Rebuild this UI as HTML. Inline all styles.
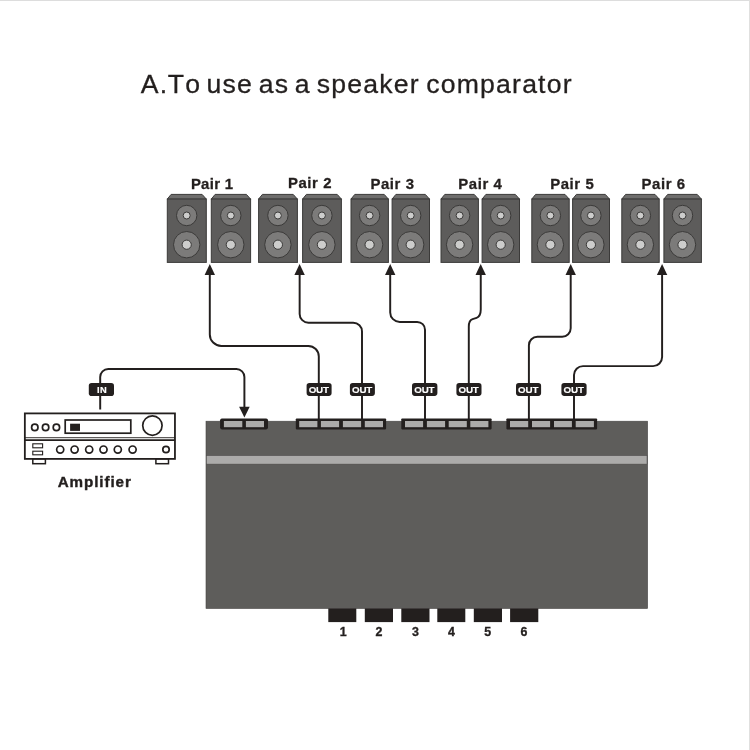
<!DOCTYPE html>
<html lang="en"><head><meta charset="utf-8"><title>A.To use as a speaker comparator</title>
<style>html,body{margin:0;padding:0;background:#fff}body{width:750px;height:750px;overflow:hidden}svg{display:block;will-change:transform;opacity:.9999}text{font-family:"Liberation Sans", sans-serif;font-kerning:none}</style>
</head><body>
<svg width="750" height="750" viewBox="0 0 750 750">
<rect width="750" height="750" fill="#fff"/>
<rect x="0" y="0" width="750" height="1" fill="#dddddd"/>
<rect x="749" y="0" width="1" height="750" fill="#e0e0df"/>
<text y="92.6" font-size="26.6" letter-spacing="1.20" fill="#231f1e" stroke="#231f1e" stroke-width="0.3"><tspan x="140.69">A.</tspan><tspan x="167.75">To</tspan> <tspan x="206.52">use</tspan> <tspan x="258.84">as</tspan> <tspan x="294.70">a</tspan> <tspan x="316.81">speaker</tspan> <tspan x="426.26">comparator</tspan></text>
<text x="190.89" y="188.5" font-size="14.9" font-weight="700" letter-spacing="0.30" fill="#231f1e" stroke="#231f1e" stroke-width="0.3">Pair 1</text>
<text x="287.89" y="187.6" font-size="14.9" font-weight="700" letter-spacing="0.60" fill="#231f1e" stroke="#231f1e" stroke-width="0.3">Pair 2</text>
<text x="370.39" y="188.5" font-size="14.9" font-weight="700" letter-spacing="0.60" fill="#231f1e" stroke="#231f1e" stroke-width="0.3">Pair 3</text>
<text x="458.29" y="188.5" font-size="14.9" font-weight="700" letter-spacing="0.60" fill="#231f1e" stroke="#231f1e" stroke-width="0.3">Pair 4</text>
<text x="550.19" y="188.5" font-size="14.9" font-weight="700" letter-spacing="0.60" fill="#231f1e" stroke="#231f1e" stroke-width="0.3">Pair 5</text>
<text x="641.49" y="188.5" font-size="14.9" font-weight="700" letter-spacing="0.60" fill="#231f1e" stroke="#231f1e" stroke-width="0.3">Pair 6</text>
<polygon points="171.1,194.40 202.1,194.40 206.30,199.10 167.30,199.10" fill="#6e6d6c" stroke="#3b3a39" stroke-width="1.0" stroke-linejoin="round"/>
<rect x="167.30" y="199.10" width="39.00" height="63.30" fill="#5d5c5b" stroke="#3b3a39" stroke-width="1.0"/>
<circle cx="186.7" cy="215.5" r="10.2" fill="#7c7b7a" stroke="#3b3a39" stroke-width="1.0"/>
<circle cx="186.7" cy="215.5" r="3.5" fill="#cdcdcc" stroke="#3b3a39" stroke-width="1.0"/>
<circle cx="186.7" cy="244.7" r="13.2" fill="#7c7b7a" stroke="#3b3a39" stroke-width="1.0"/>
<circle cx="186.7" cy="244.7" r="4.6" fill="#cdcdcc" stroke="#3b3a39" stroke-width="1.0"/>
<polygon points="215.1,194.40 246.4,194.40 250.60,199.10 211.30,199.10" fill="#6e6d6c" stroke="#3b3a39" stroke-width="1.0" stroke-linejoin="round"/>
<rect x="211.30" y="199.10" width="39.30" height="63.30" fill="#5d5c5b" stroke="#3b3a39" stroke-width="1.0"/>
<circle cx="230.8" cy="215.5" r="10.2" fill="#7c7b7a" stroke="#3b3a39" stroke-width="1.0"/>
<circle cx="230.8" cy="215.5" r="3.5" fill="#cdcdcc" stroke="#3b3a39" stroke-width="1.0"/>
<circle cx="230.8" cy="244.7" r="13.2" fill="#7c7b7a" stroke="#3b3a39" stroke-width="1.0"/>
<circle cx="230.8" cy="244.7" r="4.6" fill="#cdcdcc" stroke="#3b3a39" stroke-width="1.0"/>
<polygon points="262.4,194.40 293.2,194.40 297.40,199.10 258.60,199.10" fill="#6e6d6c" stroke="#3b3a39" stroke-width="1.0" stroke-linejoin="round"/>
<rect x="258.60" y="199.10" width="38.80" height="63.30" fill="#5d5c5b" stroke="#3b3a39" stroke-width="1.0"/>
<circle cx="277.9" cy="215.5" r="10.2" fill="#7c7b7a" stroke="#3b3a39" stroke-width="1.0"/>
<circle cx="277.9" cy="215.5" r="3.5" fill="#cdcdcc" stroke="#3b3a39" stroke-width="1.0"/>
<circle cx="277.9" cy="244.7" r="13.2" fill="#7c7b7a" stroke="#3b3a39" stroke-width="1.0"/>
<circle cx="277.9" cy="244.7" r="4.6" fill="#cdcdcc" stroke="#3b3a39" stroke-width="1.0"/>
<polygon points="306.4,194.40 337.2,194.40 341.40,199.10 302.60,199.10" fill="#6e6d6c" stroke="#3b3a39" stroke-width="1.0" stroke-linejoin="round"/>
<rect x="302.60" y="199.10" width="38.80" height="63.30" fill="#5d5c5b" stroke="#3b3a39" stroke-width="1.0"/>
<circle cx="321.9" cy="215.5" r="10.2" fill="#7c7b7a" stroke="#3b3a39" stroke-width="1.0"/>
<circle cx="321.9" cy="215.5" r="3.5" fill="#cdcdcc" stroke="#3b3a39" stroke-width="1.0"/>
<circle cx="321.9" cy="244.7" r="13.2" fill="#7c7b7a" stroke="#3b3a39" stroke-width="1.0"/>
<circle cx="321.9" cy="244.7" r="4.6" fill="#cdcdcc" stroke="#3b3a39" stroke-width="1.0"/>
<polygon points="354.8,194.40 384.2,194.40 388.40,199.10 351.00,199.10" fill="#6e6d6c" stroke="#3b3a39" stroke-width="1.0" stroke-linejoin="round"/>
<rect x="351.00" y="199.10" width="37.40" height="63.30" fill="#5d5c5b" stroke="#3b3a39" stroke-width="1.0"/>
<circle cx="369.6" cy="215.5" r="10.2" fill="#7c7b7a" stroke="#3b3a39" stroke-width="1.0"/>
<circle cx="369.6" cy="215.5" r="3.5" fill="#cdcdcc" stroke="#3b3a39" stroke-width="1.0"/>
<circle cx="369.6" cy="244.7" r="13.2" fill="#7c7b7a" stroke="#3b3a39" stroke-width="1.0"/>
<circle cx="369.6" cy="244.7" r="4.6" fill="#cdcdcc" stroke="#3b3a39" stroke-width="1.0"/>
<polygon points="395.9,194.40 425.3,194.40 429.50,199.10 392.10,199.10" fill="#6e6d6c" stroke="#3b3a39" stroke-width="1.0" stroke-linejoin="round"/>
<rect x="392.10" y="199.10" width="37.40" height="63.30" fill="#5d5c5b" stroke="#3b3a39" stroke-width="1.0"/>
<circle cx="410.7" cy="215.5" r="10.2" fill="#7c7b7a" stroke="#3b3a39" stroke-width="1.0"/>
<circle cx="410.7" cy="215.5" r="3.5" fill="#cdcdcc" stroke="#3b3a39" stroke-width="1.0"/>
<circle cx="410.7" cy="244.7" r="13.2" fill="#7c7b7a" stroke="#3b3a39" stroke-width="1.0"/>
<circle cx="410.7" cy="244.7" r="4.6" fill="#cdcdcc" stroke="#3b3a39" stroke-width="1.0"/>
<polygon points="444.8,194.40 474.2,194.40 478.40,199.10 441.00,199.10" fill="#6e6d6c" stroke="#3b3a39" stroke-width="1.0" stroke-linejoin="round"/>
<rect x="441.00" y="199.10" width="37.40" height="63.30" fill="#5d5c5b" stroke="#3b3a39" stroke-width="1.0"/>
<circle cx="459.6" cy="215.5" r="10.2" fill="#7c7b7a" stroke="#3b3a39" stroke-width="1.0"/>
<circle cx="459.6" cy="215.5" r="3.5" fill="#cdcdcc" stroke="#3b3a39" stroke-width="1.0"/>
<circle cx="459.6" cy="244.7" r="13.2" fill="#7c7b7a" stroke="#3b3a39" stroke-width="1.0"/>
<circle cx="459.6" cy="244.7" r="4.6" fill="#cdcdcc" stroke="#3b3a39" stroke-width="1.0"/>
<polygon points="485.9,194.40 515.3,194.40 519.50,199.10 482.10,199.10" fill="#6e6d6c" stroke="#3b3a39" stroke-width="1.0" stroke-linejoin="round"/>
<rect x="482.10" y="199.10" width="37.40" height="63.30" fill="#5d5c5b" stroke="#3b3a39" stroke-width="1.0"/>
<circle cx="500.7" cy="215.5" r="10.2" fill="#7c7b7a" stroke="#3b3a39" stroke-width="1.0"/>
<circle cx="500.7" cy="215.5" r="3.5" fill="#cdcdcc" stroke="#3b3a39" stroke-width="1.0"/>
<circle cx="500.7" cy="244.7" r="13.2" fill="#7c7b7a" stroke="#3b3a39" stroke-width="1.0"/>
<circle cx="500.7" cy="244.7" r="4.6" fill="#cdcdcc" stroke="#3b3a39" stroke-width="1.0"/>
<polygon points="535.6,194.40 565.0,194.40 569.20,199.10 531.80,199.10" fill="#6e6d6c" stroke="#3b3a39" stroke-width="1.0" stroke-linejoin="round"/>
<rect x="531.80" y="199.10" width="37.40" height="63.30" fill="#5d5c5b" stroke="#3b3a39" stroke-width="1.0"/>
<circle cx="550.4" cy="215.5" r="10.2" fill="#7c7b7a" stroke="#3b3a39" stroke-width="1.0"/>
<circle cx="550.4" cy="215.5" r="3.5" fill="#cdcdcc" stroke="#3b3a39" stroke-width="1.0"/>
<circle cx="550.4" cy="244.7" r="13.2" fill="#7c7b7a" stroke="#3b3a39" stroke-width="1.0"/>
<circle cx="550.4" cy="244.7" r="4.6" fill="#cdcdcc" stroke="#3b3a39" stroke-width="1.0"/>
<polygon points="576.4,194.40 605.3,194.40 609.50,199.10 572.60,199.10" fill="#6e6d6c" stroke="#3b3a39" stroke-width="1.0" stroke-linejoin="round"/>
<rect x="572.60" y="199.10" width="36.90" height="63.30" fill="#5d5c5b" stroke="#3b3a39" stroke-width="1.0"/>
<circle cx="590.9" cy="215.5" r="10.2" fill="#7c7b7a" stroke="#3b3a39" stroke-width="1.0"/>
<circle cx="590.9" cy="215.5" r="3.5" fill="#cdcdcc" stroke="#3b3a39" stroke-width="1.0"/>
<circle cx="590.9" cy="244.7" r="13.2" fill="#7c7b7a" stroke="#3b3a39" stroke-width="1.0"/>
<circle cx="590.9" cy="244.7" r="4.6" fill="#cdcdcc" stroke="#3b3a39" stroke-width="1.0"/>
<polygon points="625.6,194.40 655.0,194.40 659.20,199.10 621.80,199.10" fill="#6e6d6c" stroke="#3b3a39" stroke-width="1.0" stroke-linejoin="round"/>
<rect x="621.80" y="199.10" width="37.40" height="63.30" fill="#5d5c5b" stroke="#3b3a39" stroke-width="1.0"/>
<circle cx="640.4" cy="215.5" r="10.2" fill="#7c7b7a" stroke="#3b3a39" stroke-width="1.0"/>
<circle cx="640.4" cy="215.5" r="3.5" fill="#cdcdcc" stroke="#3b3a39" stroke-width="1.0"/>
<circle cx="640.4" cy="244.7" r="13.2" fill="#7c7b7a" stroke="#3b3a39" stroke-width="1.0"/>
<circle cx="640.4" cy="244.7" r="4.6" fill="#cdcdcc" stroke="#3b3a39" stroke-width="1.0"/>
<polygon points="667.7,194.40 697.2,194.40 701.40,199.10 663.90,199.10" fill="#6e6d6c" stroke="#3b3a39" stroke-width="1.0" stroke-linejoin="round"/>
<rect x="663.90" y="199.10" width="37.50" height="63.30" fill="#5d5c5b" stroke="#3b3a39" stroke-width="1.0"/>
<circle cx="682.5" cy="215.5" r="10.2" fill="#7c7b7a" stroke="#3b3a39" stroke-width="1.0"/>
<circle cx="682.5" cy="215.5" r="3.5" fill="#cdcdcc" stroke="#3b3a39" stroke-width="1.0"/>
<circle cx="682.5" cy="244.7" r="13.2" fill="#7c7b7a" stroke="#3b3a39" stroke-width="1.0"/>
<circle cx="682.5" cy="244.7" r="4.6" fill="#cdcdcc" stroke="#3b3a39" stroke-width="1.0"/>
<path d="M209.8,274 V334.40 A11.5,11.5 0 0 0 221.30,345.9 H308.30 A10.5,10.5 0 0 1 318.8,356.40 V420" fill="none" stroke="#231f1e" stroke-width="1.95" stroke-linecap="butt" stroke-linejoin="round"/>
<path d="M299.65,274 V313.90 A8.8,8.8 0 0 0 308.45,322.7 H353.20 A8.8,8.8 0 0 1 362.0,331.50 V420" fill="none" stroke="#231f1e" stroke-width="1.95" stroke-linecap="butt" stroke-linejoin="round"/>
<path d="M390.2,274 V312.40 A9.5,9.5 0 0 0 399.70,321.9 H417.20 A7.8,7.8 0 0 1 425.0,329.70 V420" fill="none" stroke="#231f1e" stroke-width="1.95" stroke-linecap="butt" stroke-linejoin="round"/>
<path d="M480.75,274 V309.6 C480.75,314.4 479.6,316.8 476.6,317.8 L472.6,319.1 C469.9,320 468.8,322 468.8,326.6 V420" fill="none" stroke="#231f1e" stroke-width="1.95" stroke-linecap="butt" stroke-linejoin="round"/>
<path d="M570.7,274 V328.30 A8.5,8.5 0 0 1 562.20,336.8 H537.40 A8.5,8.5 0 0 0 528.9,345.30 V420" fill="none" stroke="#231f1e" stroke-width="1.95" stroke-linecap="butt" stroke-linejoin="round"/>
<path d="M662.1,274 V357.10 A9,9 0 0 1 653.10,366.1 H583.00 A9,9 0 0 0 574.0,375.10 V420" fill="none" stroke="#231f1e" stroke-width="1.95" stroke-linecap="butt" stroke-linejoin="round"/>
<path d="M100.2,409.5 V377.00 A8,8 0 0 1 108.20,369.0 H236.40 A8,8 0 0 1 244.4,377.00 V407.5" fill="none" stroke="#231f1e" stroke-width="1.95" stroke-linecap="butt" stroke-linejoin="round"/>
<polygon points="209.8,264.1 215.0,274.9 204.6,274.9" fill="#231f1e"/>
<polygon points="299.6,264.1 304.8,274.9 294.4,274.9" fill="#231f1e"/>
<polygon points="390.2,264.1 395.4,274.9 385.0,274.9" fill="#231f1e"/>
<polygon points="480.7,264.1 485.9,274.9 475.5,274.9" fill="#231f1e"/>
<polygon points="570.7,264.1 575.9,274.9 565.5,274.9" fill="#231f1e"/>
<polygon points="662.1,264.1 667.3,274.9 656.9,274.9" fill="#231f1e"/>
<polygon points="244.4,417.6 249.7,406.7 239.1,406.7" fill="#231f1e"/>
<rect x="88.8" y="382.9" width="25.2" height="13.1" rx="2.8" fill="#231f1e"/>
<text x="96.88" y="392.6" font-size="9.3" font-weight="700" letter-spacing="0.57" fill="#fff" stroke="#fff" stroke-width="0.15">IN</text>
<rect x="306.6" y="383.1" width="25.0" height="12.8" rx="2.8" fill="#231f1e"/>
<text x="308.63" y="393.15" font-size="9.8" font-weight="700" letter-spacing="-0.16" fill="#fff" stroke="#fff" stroke-width="0.15">OUT</text>
<rect x="349.9" y="383.1" width="25.0" height="12.8" rx="2.8" fill="#231f1e"/>
<text x="351.93" y="393.15" font-size="9.8" font-weight="700" letter-spacing="-0.16" fill="#fff" stroke="#fff" stroke-width="0.15">OUT</text>
<rect x="412.0" y="383.1" width="25.4" height="12.8" rx="2.8" fill="#231f1e"/>
<text x="414.23" y="393.15" font-size="9.8" font-weight="700" letter-spacing="-0.16" fill="#fff" stroke="#fff" stroke-width="0.15">OUT</text>
<rect x="456.4" y="383.1" width="25.1" height="12.8" rx="2.8" fill="#231f1e"/>
<text x="458.48" y="393.15" font-size="9.8" font-weight="700" letter-spacing="-0.16" fill="#fff" stroke="#fff" stroke-width="0.15">OUT</text>
<rect x="516.0" y="383.1" width="25.1" height="12.8" rx="2.8" fill="#231f1e"/>
<text x="518.08" y="393.15" font-size="9.8" font-weight="700" letter-spacing="-0.16" fill="#fff" stroke="#fff" stroke-width="0.15">OUT</text>
<rect x="561.4" y="383.1" width="25.2" height="12.8" rx="2.8" fill="#231f1e"/>
<text x="563.53" y="393.15" font-size="9.8" font-weight="700" letter-spacing="-0.16" fill="#fff" stroke="#fff" stroke-width="0.15">OUT</text>
<rect x="206.0" y="421.2" width="441.6" height="187.3" fill="#5e5d5b" stroke="#464544" stroke-width="0.6"/>
<rect x="206.4" y="455.6" width="440.6" height="8.5" fill="#acabaa" stroke="#4a4948" stroke-width="0.5"/>
<rect x="220.1" y="418.5" width="47.9" height="10.9" rx="1.8" fill="#231f1e"/>
<rect x="223.9" y="421.0" width="18.4" height="6.2" fill="#acabaa"/>
<rect x="245.9" y="421.0" width="18.1" height="6.2" fill="#acabaa"/>
<rect x="295.8" y="418.5" width="90.3" height="10.9" rx="0.8" fill="#231f1e"/>
<rect x="299.2" y="421.0" width="18.2" height="6.2" fill="#acabaa"/>
<rect x="320.9" y="421.0" width="18.2" height="6.2" fill="#acabaa"/>
<rect x="342.9" y="421.0" width="18.2" height="6.2" fill="#acabaa"/>
<rect x="364.8" y="421.0" width="18.2" height="6.2" fill="#acabaa"/>
<rect x="401.3" y="418.5" width="90.3" height="10.9" rx="0.8" fill="#231f1e"/>
<rect x="405.0" y="421.0" width="18.1" height="6.2" fill="#acabaa"/>
<rect x="426.9" y="421.0" width="18.2" height="6.2" fill="#acabaa"/>
<rect x="448.7" y="421.0" width="18.1" height="6.2" fill="#acabaa"/>
<rect x="470.3" y="421.0" width="18.1" height="6.2" fill="#acabaa"/>
<rect x="506.4" y="418.5" width="90.7" height="10.9" rx="0.8" fill="#231f1e"/>
<rect x="510.0" y="421.0" width="18.2" height="6.2" fill="#acabaa"/>
<rect x="532.0" y="421.0" width="18.1" height="6.2" fill="#acabaa"/>
<rect x="554.0" y="421.0" width="17.9" height="6.2" fill="#acabaa"/>
<rect x="575.7" y="421.0" width="18.2" height="6.2" fill="#acabaa"/>
<rect x="328.3" y="608.4" width="28.0" height="13.7" fill="#231f1e"/>
<rect x="364.8" y="608.4" width="28.2" height="13.7" fill="#231f1e"/>
<rect x="401.3" y="608.4" width="28.2" height="13.7" fill="#231f1e"/>
<rect x="437.3" y="608.4" width="28.0" height="13.7" fill="#231f1e"/>
<rect x="473.8" y="608.4" width="28.2" height="13.7" fill="#231f1e"/>
<rect x="510.1" y="608.4" width="28.2" height="13.7" fill="#231f1e"/>
<text x="339.76" y="635.75" font-size="12.4" font-weight="700" fill="#231f1e" stroke="#231f1e" stroke-width="0.35">1</text>
<text x="375.53" y="635.75" font-size="12.4" font-weight="700" fill="#231f1e" stroke="#231f1e" stroke-width="0.35">2</text>
<text x="411.94" y="635.75" font-size="12.4" font-weight="700" fill="#231f1e" stroke="#231f1e" stroke-width="0.35">3</text>
<text x="447.92" y="635.75" font-size="12.4" font-weight="700" fill="#231f1e" stroke="#231f1e" stroke-width="0.35">4</text>
<text x="484.23" y="635.75" font-size="12.4" font-weight="700" fill="#231f1e" stroke="#231f1e" stroke-width="0.35">5</text>
<text x="520.51" y="635.75" font-size="12.4" font-weight="700" fill="#231f1e" stroke="#231f1e" stroke-width="0.35">6</text>
<rect x="32.8" y="458.8" width="12.6" height="4.9" fill="#fff" stroke="#231f1e" stroke-width="1.5"/>
<rect x="155.9" y="458.8" width="12.6" height="4.9" fill="#fff" stroke="#231f1e" stroke-width="1.5"/>
<rect x="24.85" y="413.4" width="150.1" height="45.5" fill="#fff" stroke="#231f1e" stroke-width="1.8"/>
<line x1="24.6" y1="437.7" x2="175.2" y2="437.7" stroke="#231f1e" stroke-width="0.9"/>
<line x1="24.6" y1="440.05" x2="175.2" y2="440.05" stroke="#231f1e" stroke-width="1.7"/>
<circle cx="34.8" cy="427.4" r="3.2" fill="#fff" stroke="#231f1e" stroke-width="1.7"/>
<circle cx="45.6" cy="427.4" r="3.2" fill="#fff" stroke="#231f1e" stroke-width="1.7"/>
<circle cx="56.4" cy="427.4" r="3.2" fill="#fff" stroke="#231f1e" stroke-width="1.7"/>
<rect x="65.2" y="420.0" width="65.6" height="13.2" fill="#fff" stroke="#231f1e" stroke-width="1.7"/>
<rect x="70.1" y="423.7" width="9.9" height="7.2" fill="#231f1e"/>
<circle cx="152.4" cy="425.6" r="9.7" fill="#fff" stroke="#231f1e" stroke-width="1.7"/>
<rect x="32.8" y="443.8" width="9.8" height="4.0" fill="#fff" stroke="#231f1e" stroke-width="1.1"/>
<rect x="32.8" y="451.2" width="9.8" height="3.6" fill="#fff" stroke="#231f1e" stroke-width="1.1"/>
<circle cx="60.2" cy="449.55" r="3.55" fill="#fff" stroke="#231f1e" stroke-width="1.7"/>
<circle cx="74.6" cy="449.55" r="3.55" fill="#fff" stroke="#231f1e" stroke-width="1.7"/>
<circle cx="89.2" cy="449.55" r="3.55" fill="#fff" stroke="#231f1e" stroke-width="1.7"/>
<circle cx="103.5" cy="449.55" r="3.55" fill="#fff" stroke="#231f1e" stroke-width="1.7"/>
<circle cx="117.8" cy="449.55" r="3.55" fill="#fff" stroke="#231f1e" stroke-width="1.7"/>
<circle cx="132.6" cy="449.55" r="3.55" fill="#fff" stroke="#231f1e" stroke-width="1.7"/>
<circle cx="166.0" cy="449.5" r="3.2" fill="#fff" stroke="#231f1e" stroke-width="1.7"/>
<text x="57.73" y="487.2" font-size="15.2" font-weight="700" letter-spacing="0.92" fill="#231f1e" stroke="#231f1e" stroke-width="0.4">Amplifier</text>
</svg>
</body></html>
